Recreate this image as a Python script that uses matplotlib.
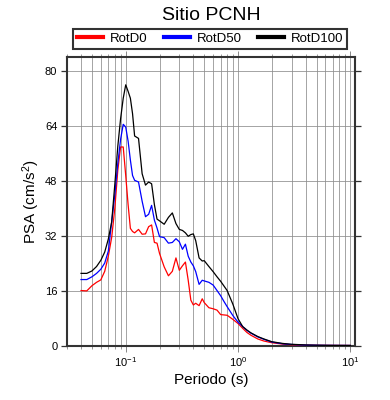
import matplotlib
matplotlib.use('Agg')
import matplotlib.pyplot as plt
from matplotlib.ticker import LogLocator, FixedLocator, NullFormatter

plt.rcParams['font.family'] = ['Liberation Sans', 'DejaVu Sans']
plt.rcParams['mathtext.fontset'] = 'custom'
plt.rcParams['mathtext.rm'] = 'Liberation Sans'
plt.rcParams['mathtext.it'] = 'Liberation Sans:italic'

# =Data
periods = [0.04, 0.045, 0.05, 0.055, 0.06, 0.065, 0.07, 0.075, 0.08, 0.085,
           0.09, 0.095, 0.1, 0.105, 0.11, 0.115, 0.12, 0.13, 0.14, 0.15,
           0.16, 0.17, 0.18, 0.19, 0.2, 0.22, 0.24, 0.26, 0.28, 0.3,
           0.32, 0.34, 0.36, 0.38, 0.4, 0.42, 0.45, 0.48, 0.5, 0.55,
           0.6, 0.65, 0.7, 0.75, 0.8, 0.9, 1.0, 1.1, 1.2, 1.3,
           1.5, 1.7, 2.0, 2.5, 3.0, 3.5, 4, 5, 6, 7, 8, 10]

rotd0 = [16.0, 15.9, 17.4, 18.4, 19.1, 21.6, 26.0, 31.5, 40.0, 51.0,
         57.8, 57.8, 49.5, 41.0, 34.1, 33.2, 32.8, 33.8, 32.4, 32.5,
         34.6, 35.1, 30.0, 29.8, 26.8, 22.9, 20.3, 21.6, 25.5, 21.9,
         23.2, 24.3, 19.0, 13.2, 11.8, 12.3, 11.6, 13.6, 12.5, 11.0,
         10.7, 10.3, 9.0, 8.9, 8.8, 7.6, 6.4, 5.0, 3.8, 3.0,
         1.9, 1.3, 0.8, 0.4, 0.2, 0.15, 0.1, 0.06, 0.04, 0.03, 0.02, 0.01]

rotd50 = [19.2, 19.2, 20.0, 21.0, 22.2, 24.0, 27.5, 36.0, 44.0, 53.0,
          60.0, 64.4, 63.6, 59.5, 54.0, 49.5, 48.1, 47.6, 42.0, 37.5,
          38.2, 40.8, 36.5, 34.2, 31.7, 31.4, 29.8, 30.0, 31.1, 30.2,
          28.0, 29.5, 26.0, 24.3, 23.2, 21.5, 17.8, 19.0, 18.8, 18.4,
          17.6, 16.0, 14.5, 12.8, 11.3, 8.7, 6.8, 5.5, 4.4, 3.6,
          2.5, 1.8, 1.0, 0.5, 0.3, 0.2, 0.12, 0.07, 0.04, 0.03, 0.02, 0.01]

rotd100 = [21.0, 21.0, 21.7, 23.0, 24.8, 27.2, 31.0, 36.0, 47.0, 58.0,
           66.0, 72.0, 75.9, 74.0, 72.0, 67.5, 61.0, 60.3, 50.0, 46.7,
           47.6, 47.1, 41.0, 36.8, 36.3, 35.3, 37.3, 38.6, 35.5, 33.8,
           33.5, 32.8, 31.8, 32.3, 32.5, 30.5, 25.5, 24.6, 24.7, 23.0,
           21.5, 20.0, 18.7, 17.3, 16.0, 12.0, 7.8, 5.5, 4.5, 3.7,
           2.6, 1.9, 1.1, 0.6, 0.35, 0.25, 0.15, 0.08, 0.05, 0.03, 0.02, 0.01]

series_labels = ['RotD0', 'RotD50', 'RotD100']
series_colors = ['#ff0000', '#0000ff', '#000000']
y_ticks = [0, 16, 32, 48, 64, 80]

fig = plt.figure(figsize=(3.9, 4.0), dpi=100)
ax = fig.add_axes([67 / 390, 1 - 345.5 / 400, 288 / 390, 288.5 / 400])

lines = []
for vals, lab, col in zip([rotd0, rotd50, rotd100], series_labels, series_colors):
    ln, = ax.plot(periods, vals, color=col, lw=0.9, label=lab, zorder=3)
    lines.append(ln)

ax.set_xscale('log')
ax.set_xlim(0.03, 11)
ax.set_ylim(0, 84)
ax.xaxis.set_major_locator(LogLocator(base=10, numticks=10))
ax.xaxis.set_minor_locator(LogLocator(base=10, subs=range(2, 10), numticks=20))
ax.xaxis.set_minor_formatter(NullFormatter())
ax.yaxis.set_major_locator(FixedLocator(y_ticks))

# GMT-like grid
ax.grid(True, which='both', axis='x', color='#8c8c8c', lw=0.55, zorder=1)
ax.grid(True, which='major', axis='y', color='#8c8c8c', lw=0.55, zorder=1)

for sp in ax.spines.values():
    sp.set_linewidth(1.5)
    sp.set_color('#333333')

ax.tick_params(which='both', direction='out', top=True, right=True,
               color='#888888', labelsize=8, pad=3)
ax.tick_params(which='major', length=4, width=0.7)
ax.tick_params(which='minor', length=2.5, width=0.6)
ax.tick_params(axis='y', which='major', left=True, color='#333333', width=0.9)

ax.set_xlabel('Periodo (s)', fontsize=11, labelpad=3)
ax.set_ylabel('PSA (cm/s$^2$)', fontsize=11, labelpad=2)

fig.text(211 / 390, 1 - 15 / 400, 'Sitio PCNH', fontsize=14,
         ha='center', va='center')

# legend box spans x 73..347, y 28..49 px
leg = fig.legend(lines, series_labels, ncol=3, loc='lower left', mode='expand',
                 bbox_to_anchor=(73 / 390, 1 - 49 / 400, 274 / 390, 21 / 400),
                 fontsize=9.5, frameon=True, fancybox=False,
                 edgecolor='black', handlelength=2.0, handletextpad=0.5,
                 columnspacing=0.8, borderpad=0.3, borderaxespad=0)
leg.get_frame().set_linewidth(1.5)
for h in leg.legend_handles:
    h.set_linewidth(3)

fig.savefig('out.png', dpi=100)
